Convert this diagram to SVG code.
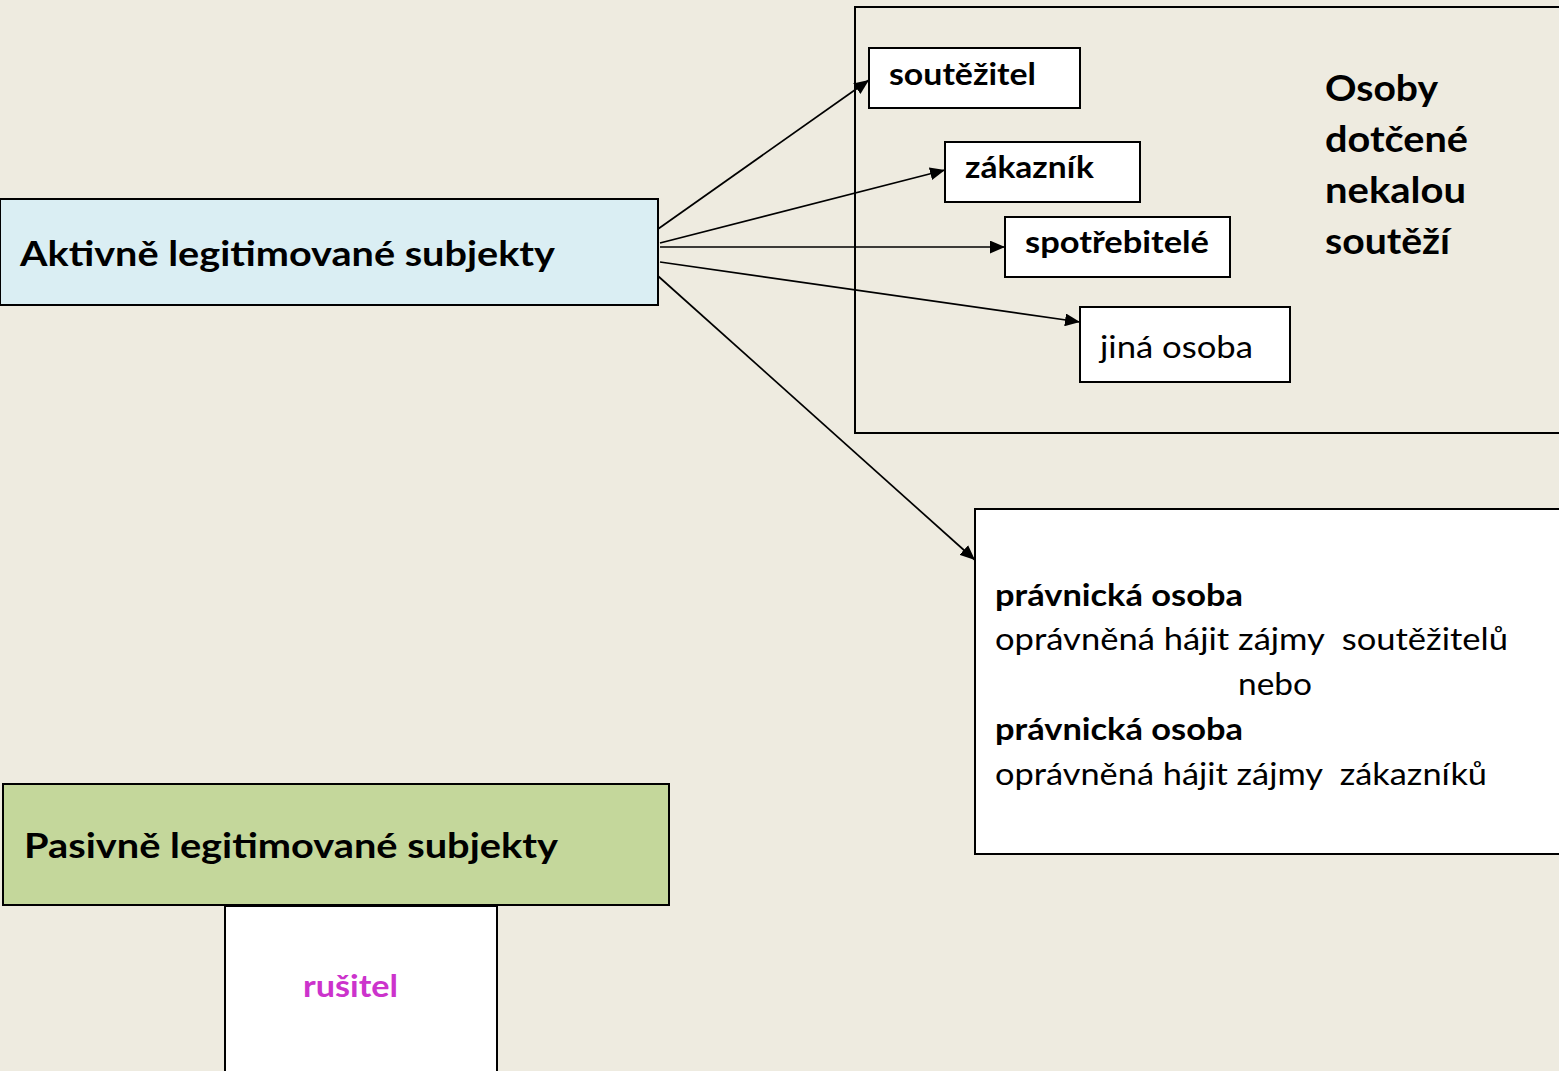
<svg xmlns="http://www.w3.org/2000/svg" width="1559" height="1071" viewBox="0 0 1559 1071">
<style>
.box{stroke:#000;stroke-width:2;fill:#fff}
.t{font-family:Lato,"Noto Sans","DejaVu Sans",sans-serif;fill:#000}
.b{font-weight:bold}
.conn line{stroke:#000;stroke-width:1.7;fill:none}
</style>
<defs>
<marker id="arr" viewBox="0 0 14 12" refX="14" refY="6" markerWidth="15" markerHeight="13" markerUnits="userSpaceOnUse" orient="auto">
<path d="M0,0 L14,6 L0,12 Z" fill="#000"/>
</marker>
</defs>
<rect width="1559" height="1071" fill="#EEEBE0"/>
<g id="group-osoby">
<rect x="855" y="7" width="720" height="426" fill="none" stroke="#000" stroke-width="2"/>
<text class="t b" font-size="36"><tspan x="1325" y="101" textLength="113" lengthAdjust="spacingAndGlyphs">Osoby</tspan><tspan x="1325" y="152" textLength="143" lengthAdjust="spacingAndGlyphs">dotčené</tspan><tspan x="1325" y="203" textLength="141" lengthAdjust="spacingAndGlyphs">nekalou</tspan><tspan x="1325" y="254" textLength="125" lengthAdjust="spacingAndGlyphs">soutěží</tspan></text>
</g>
<g id="node-aktivne">
<rect x="0" y="199" width="658" height="106" fill="#DAEEF3" stroke="#000" stroke-width="2"/>
<text class="t b" x="20" y="266" font-size="34" textLength="535" lengthAdjust="spacingAndGlyphs">Aktivně legitimované subjekty</text>
</g>
<g id="node-soutezitel">
<rect class="box" x="869" y="48" width="211" height="60"/>
<text class="t b" x="889" y="85" font-size="30" textLength="147" lengthAdjust="spacingAndGlyphs">soutěžitel</text>
</g>
<g id="node-zakaznik">
<rect class="box" x="945" y="142" width="195" height="60"/>
<text class="t b" x="965" y="178" font-size="30" textLength="129" lengthAdjust="spacingAndGlyphs">zákazník</text>
</g>
<g id="node-spotrebitele">
<rect class="box" x="1005" y="217" width="225" height="60"/>
<text class="t b" x="1025" y="253" font-size="30" textLength="184" lengthAdjust="spacingAndGlyphs">spotřebitelé</text>
</g>
<g id="node-jina">
<rect class="box" x="1080" y="307" width="210" height="75"/>
<text class="t" x="1100" y="358" font-size="31" textLength="153" lengthAdjust="spacingAndGlyphs">jiná osoba</text>
</g>
<g id="node-pravnicka">
<rect class="box" x="975" y="509" width="600" height="345"/>
<text class="t b" x="995" y="606" font-size="31" textLength="248" lengthAdjust="spacingAndGlyphs">právnická osoba</text>
<text class="t" x="995" y="650" font-size="31" textLength="513" lengthAdjust="spacingAndGlyphs">oprávněná hájit zájmy &#160;soutěžitelů</text>
<text class="t" x="1238" y="695" font-size="31" textLength="74" lengthAdjust="spacingAndGlyphs">nebo</text>
<text class="t b" x="995" y="740" font-size="31" textLength="248" lengthAdjust="spacingAndGlyphs">právnická osoba</text>
<text class="t" x="995" y="785" font-size="31" textLength="492" lengthAdjust="spacingAndGlyphs">oprávněná hájit zájmy &#160;zákazníků</text>
</g>
<g id="node-pasivne">
<rect x="3" y="784" width="666" height="121" fill="#C4D79B" stroke="#000" stroke-width="2"/>
<text class="t b" x="24" y="858" font-size="34" textLength="534" lengthAdjust="spacingAndGlyphs">Pasivně legitimované subjekty</text>
</g>
<g id="node-rusitel">
<rect class="box" x="225" y="906" width="272" height="180"/>
<text class="t b" x="303" y="997" font-size="30" textLength="95" lengthAdjust="spacingAndGlyphs" style="fill:#CC33CC">rušitel</text>
</g>
<g id="connectors" class="conn">
<line x1="658" y1="229" x2="869" y2="80" marker-end="url(#arr)"/>
<line x1="660" y1="243" x2="945" y2="170" marker-end="url(#arr)"/>
<line x1="660" y1="247" x2="1005" y2="247" marker-end="url(#arr)"/>
<line x1="660" y1="262" x2="1080" y2="322" marker-end="url(#arr)"/>
<line x1="658" y1="276" x2="975" y2="560" marker-end="url(#arr)"/>
</g>
</svg>
